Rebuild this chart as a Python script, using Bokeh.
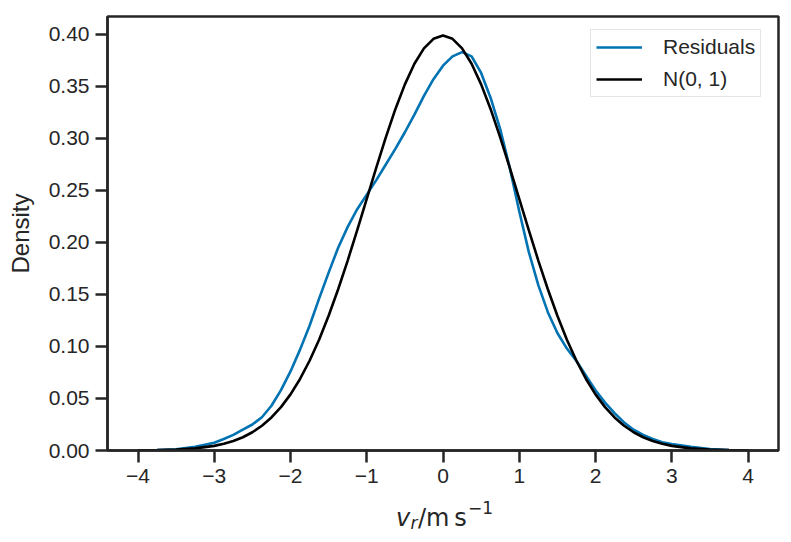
from bokeh.plotting import figure
from bokeh.layouts import column
from bokeh.models import (Range1d, FixedTicker, Legend, LegendItem,
                          NumeralTickFormatter, CustomJSTickFormatter)
from bokeh.core.properties import value
from bokeh.embed import file_html
from bokeh.resources import INLINE

# ---------------- data ----------------
x_vals = [-4.0, -3.75, -3.5, -3.25,
          -3.0, -2.875, -2.75, -2.625, -2.5, -2.375, -2.25, -2.125,
          -2.0, -1.875, -1.75, -1.625, -1.5, -1.375, -1.25, -1.125,
          -1.0, -0.875, -0.75, -0.625, -0.5, -0.375, -0.25, -0.125,
          0.0, 0.125, 0.25, 0.375, 0.5, 0.625, 0.75, 0.875,
          1.0, 1.125, 1.25, 1.375, 1.5, 1.625, 1.75, 1.875,
          2.0, 2.125, 2.25, 2.375, 2.5, 2.625, 2.75, 2.875,
          3.0, 3.25, 3.5, 3.75, 4.0]

residuals_density = [0.0001, 0.0004, 0.0012, 0.0035,
                     0.0075, 0.011, 0.015, 0.020, 0.025, 0.032, 0.043, 0.058,
                     0.076, 0.097, 0.120, 0.146, 0.171, 0.195, 0.215, 0.232,
                     0.246, 0.260, 0.275, 0.290, 0.306, 0.323, 0.341, 0.357,
                     0.370, 0.379, 0.383, 0.379, 0.363, 0.339, 0.309, 0.272,
                     0.230, 0.191, 0.159, 0.133, 0.113, 0.098, 0.086, 0.072,
                     0.058, 0.046, 0.036, 0.027, 0.020, 0.015, 0.011, 0.008,
                     0.0062, 0.0035, 0.0015, 0.0005, 0.0001]

normal_density = [0.00013, 0.00035, 0.00087, 0.00203,
                  0.00443, 0.00640, 0.00909, 0.01273, 0.01753, 0.02377, 0.03174, 0.04173,
                  0.05399, 0.06879, 0.08628, 0.10654, 0.12952, 0.15502, 0.18265, 0.21187,
                  0.24197, 0.27206, 0.30114, 0.32816, 0.35207, 0.37186, 0.38667, 0.39583,
                  0.39894, 0.39583, 0.38667, 0.37186, 0.35207, 0.32816, 0.30114, 0.27206,
                  0.24197, 0.21187, 0.18265, 0.15502, 0.12952, 0.10654, 0.08628, 0.06879,
                  0.05399, 0.04173, 0.03174, 0.02377, 0.01753, 0.01273, 0.00909, 0.00640,
                  0.00443, 0.00203, 0.00087, 0.00035, 0.00013]

x_ticks = [-4, -3, -2, -1, 0, 1, 2, 3, 4]
y_ticks = [0.0, 0.05, 0.10, 0.15, 0.20, 0.25, 0.30, 0.35, 0.40]
series_labels = ["Residuals", "N(0, 1)"]
y_label = "Density"
# x-axis label  v_r / m s^-1 : (text, style, size)
x_label_parts = [("v", "italic", "24px"), ("r", "italic", "17px"),
                 ("/m\u2009s", "normal", "24px"), ("\u22121", "normal", "17px")]

# ---------------- styling ----------------
DARK = "#262626"
BLUE = "#0173B2"
TICK_FONT = "Liberation Sans"
MATH_FONT = "DejaVu Sans"

p = figure(width=791, height=490, output_backend="svg", toolbar_location=None,
           x_range=Range1d(-4.4, 4.4), y_range=Range1d(0, 0.4173),
           min_border_left=107, min_border_right=13,
           min_border_top=16, min_border_bottom=40)
p.background_fill_color = "white"
p.border_fill_color = "white"
p.grid.visible = False
p.outline_line_color = DARK
p.outline_line_width = 2.5

r_res = p.line(x_vals, residuals_density, line_color=BLUE, line_width=2.6)
r_norm = p.line(x_vals, normal_density, line_color="black", line_width=2.6)

for ax in (p.xaxis[0], p.yaxis[0]):
    ax.axis_line_color = DARK
    ax.axis_line_width = 2.5
    ax.major_tick_line_color = DARK
    ax.major_tick_line_width = 2.5
    ax.major_tick_out = 12
    ax.major_tick_in = 0
    ax.minor_tick_line_color = None
    ax.major_label_text_font = TICK_FONT
    ax.major_label_text_font_size = "21px"
    ax.major_label_text_color = DARK
    ax.major_label_standoff = 6

p.xaxis.ticker = FixedTicker(ticks=x_ticks)
p.xaxis.formatter = CustomJSTickFormatter(
    code="return tick < 0 ? '\u2212' + String(-tick) : String(tick);")
p.yaxis.ticker = FixedTicker(ticks=y_ticks)
p.yaxis.formatter = NumeralTickFormatter(format="0.00")

p.yaxis.axis_label = y_label
p.yaxis.axis_label_text_font = TICK_FONT
p.yaxis.axis_label_text_font_size = "24px"
p.yaxis.axis_label_text_font_style = "normal"
p.yaxis.axis_label_text_color = DARK
p.yaxis.axis_label_standoff = 12

legend = Legend(items=[LegendItem(label=series_labels[0], renderers=[r_res]),
                       LegendItem(label=series_labels[1], renderers=[r_norm])],
                location=(483, 353))
legend.label_text_font = TICK_FONT
legend.label_text_font_size = "21px"
legend.label_text_color = DARK
legend.glyph_width = 46
legend.glyph_height = 20
legend.label_height = 20
legend.label_standoff = 21
legend.spacing = 8
legend.padding = 5
legend.margin = 0
legend.border_line_color = "#cccccc"
legend.border_line_width = 1.5
legend.background_fill_alpha = 0.8
p.add_layout(legend)

# strip below the plot that carries the x-axis label; shares the x range
p2 = figure(width=791, height=52, output_backend="svg", toolbar_location=None,
            x_range=p.x_range, y_range=Range1d(0, 52),
            x_axis_type=None, y_axis_type=None,
            min_border_left=107, min_border_right=13,
            min_border_top=0, min_border_bottom=0)
p2.outline_line_color = None
p2.grid.visible = False
p2.background_fill_color = "white"
p2.border_fill_color = "white"

part_dx = [-47, -32.5, -25, 25]   # horizontal offsets in px from the centre tick
part_y = [25, 20, 25, 35]
for (txt, style, size), dx, py in zip(x_label_parts, part_dx, part_y):
    p2.text(x=[0], y=[py], text=[txt], x_offset=dx, text_font=value(MATH_FONT),
            text_font_style=style, text_font_size=size, text_color=DARK,
            text_align="left", text_baseline="alphabetic")

layout = column(p, p2, spacing=0)
open("out.html", "w").write(file_html(layout, INLINE))
